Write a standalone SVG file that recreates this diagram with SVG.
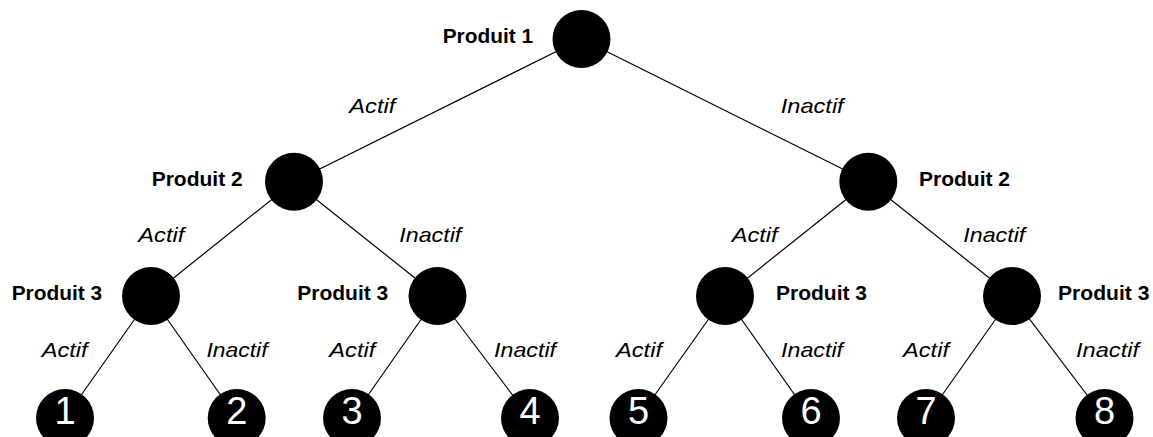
<svg xmlns="http://www.w3.org/2000/svg" width="1153" height="437" viewBox="0 0 1153 437">
<style>
.n{fill:#000}
.p{font-family:"Liberation Sans",Arial,sans-serif;font-weight:bold;font-size:21px;fill:#000}
.e{font-family:"Liberation Sans",Arial,sans-serif;font-style:italic;font-size:21px;fill:#000}
.d{font-family:"Liberation Sans",Arial,sans-serif;font-size:38px;fill:#fff;text-anchor:middle}
.c line{stroke:#000;stroke-width:1.2}
</style>
<rect width="1153" height="437" fill="#fff"/>
<g id="connectors" class="c">
<line x1="581.5" y1="39" x2="294" y2="181.7"/>
<line x1="581.5" y1="39" x2="868.3" y2="181.7"/>
<line x1="294" y1="181.7" x2="151" y2="296"/>
<line x1="294" y1="181.7" x2="437.5" y2="296"/>
<line x1="868.3" y1="181.7" x2="725" y2="296"/>
<line x1="868.3" y1="181.7" x2="1012" y2="296"/>
<line x1="151" y1="296" x2="65" y2="418"/>
<line x1="151" y1="296" x2="236.7" y2="418"/>
<line x1="437.5" y1="296" x2="352" y2="418"/>
<line x1="437.5" y1="296" x2="530" y2="418"/>
<line x1="725" y1="296" x2="638.5" y2="418"/>
<line x1="725" y1="296" x2="811" y2="418"/>
<line x1="1012" y1="296" x2="926" y2="418"/>
<line x1="1012" y1="296" x2="1104.5" y2="418"/>
</g>
<g id="edge-labels">
<text class="e" x="349.3" y="113.3" textLength="46" lengthAdjust="spacingAndGlyphs">Actif</text>
<text class="e" x="780.7" y="113.3" textLength="63" lengthAdjust="spacingAndGlyphs">Inactif</text>
<text class="e" x="138.3" y="242.3" textLength="46" lengthAdjust="spacingAndGlyphs">Actif</text>
<text class="e" x="399.3" y="242.3" textLength="62" lengthAdjust="spacingAndGlyphs">Inactif</text>
<text class="e" x="731.7" y="242.3" textLength="46" lengthAdjust="spacingAndGlyphs">Actif</text>
<text class="e" x="963.3" y="242.3" textLength="62" lengthAdjust="spacingAndGlyphs">Inactif</text>
<text class="e" x="41.7" y="356.7" textLength="46" lengthAdjust="spacingAndGlyphs">Actif</text>
<text class="e" x="206.5" y="356.7" textLength="61" lengthAdjust="spacingAndGlyphs">Inactif</text>
<text class="e" x="329.3" y="356.7" textLength="46" lengthAdjust="spacingAndGlyphs">Actif</text>
<text class="e" x="494" y="356.7" textLength="62" lengthAdjust="spacingAndGlyphs">Inactif</text>
<text class="e" x="616" y="356.7" textLength="46" lengthAdjust="spacingAndGlyphs">Actif</text>
<text class="e" x="781" y="356.7" textLength="62" lengthAdjust="spacingAndGlyphs">Inactif</text>
<text class="e" x="903" y="356.7" textLength="46" lengthAdjust="spacingAndGlyphs">Actif</text>
<text class="e" x="1076" y="356.7" textLength="63" lengthAdjust="spacingAndGlyphs">Inactif</text>
</g>
<g id="p1"><circle class="n" cx="581.5" cy="39" r="29"/><text class="p" x="442.7" y="42.7" textLength="90.5" lengthAdjust="spacingAndGlyphs">Produit 1</text></g>
<g id="p2a"><circle class="n" cx="294" cy="181.7" r="29"/><text class="p" x="151.7" y="186" textLength="91" lengthAdjust="spacingAndGlyphs">Produit 2</text></g>
<g id="p2b"><circle class="n" cx="868.3" cy="181.7" r="29"/><text class="p" x="919" y="186" textLength="91" lengthAdjust="spacingAndGlyphs">Produit 2</text></g>
<g id="p3a"><circle class="n" cx="151" cy="296" r="29"/><text class="p" x="11.7" y="300" textLength="90.5" lengthAdjust="spacingAndGlyphs">Produit 3</text></g>
<g id="p3b"><circle class="n" cx="437.5" cy="296" r="29"/><text class="p" x="297.3" y="300" textLength="91" lengthAdjust="spacingAndGlyphs">Produit 3</text></g>
<g id="p3c"><circle class="n" cx="725" cy="296" r="29"/><text class="p" x="776" y="300" textLength="91" lengthAdjust="spacingAndGlyphs">Produit 3</text></g>
<g id="p3d"><circle class="n" cx="1012" cy="296" r="29"/><text class="p" x="1058" y="300" textLength="91.5" lengthAdjust="spacingAndGlyphs">Produit 3</text></g>
<g id="leaf1"><circle class="n" cx="65" cy="418" r="29"/><text class="d" x="65" y="423.5">1</text></g>
<g id="leaf2"><circle class="n" cx="236.7" cy="418" r="29"/><text class="d" x="236.7" y="423.5">2</text></g>
<g id="leaf3"><circle class="n" cx="352" cy="418" r="29"/><text class="d" x="352" y="423.5">3</text></g>
<g id="leaf4"><circle class="n" cx="530" cy="418" r="29"/><text class="d" x="530" y="423.5">4</text></g>
<g id="leaf5"><circle class="n" cx="638.5" cy="418" r="29"/><text class="d" x="638.5" y="423.5">5</text></g>
<g id="leaf6"><circle class="n" cx="811" cy="418" r="29"/><text class="d" x="811" y="423.5">6</text></g>
<g id="leaf7"><circle class="n" cx="926" cy="418" r="29"/><text class="d" x="926" y="423.5">7</text></g>
<g id="leaf8"><circle class="n" cx="1104.5" cy="418" r="29"/><text class="d" x="1104.5" y="423.5">8</text></g>
</svg>
